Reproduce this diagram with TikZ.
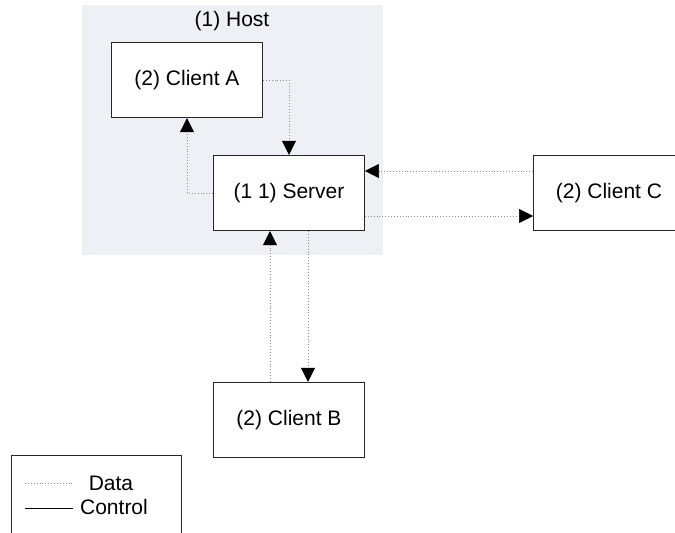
\documentclass[tikz,border=0pt]{standalone}
\usepackage{fontspec}
\setmainfont{Liberation Sans}
\usetikzlibrary{arrows.meta}
\definecolor{hostfill}{HTML}{EDF0F5}
\definecolor{dataline}{HTML}{8C8C8C}
\tikzset{
  box/.style={draw=black!85, line width=0.9pt, fill=white, minimum width=151pt,
    minimum height=75.5pt, inner sep=0pt, font=\fontsize{21}{24}\selectfont},
  lbl/.style={inner sep=0pt, font=\fontsize{21}{24}\selectfont},
  dataflow/.style={draw=dataline, line width=0.9pt, dotted,
    -{Triangle[length=14pt,width=14pt,color=black,fill=black,line width=0.5pt]}},
}
\begin{document}
\begin{tikzpicture}[x=1pt,y=-1pt]
  \useasboundingbox (0,0) rectangle (675,533);
  \clip (0,0) rectangle (675,533);
  % host area
  \fill[hostfill] (82,5) rectangle (383,255);
  \node[lbl] (hostlabel) at (232,21) {(1) Host};
  % processes
  \node[box] (clientA) at (187,80) {(2) Client A};
  \node[box] (server)  at (289,193) {(1 1) Server};
  \node[box] (clientC) at (609,193) {(2) Client C};
  \node[box] (clientB) at (289,420) {(2) Client B};
  % data flows
  \draw[dataflow] (clientA.east) -| (server.north);
  \draw[dataflow] (server.west) -| (clientA.south);
  \draw[dataflow] ([yshift=22pt]clientC.west) -- ([yshift=22pt]server.east);
  \draw[dataflow] ([yshift=-23pt]server.east) -- ([yshift=-23pt]clientC.west);
  \draw[dataflow] ([xshift=-19pt]clientB.north) -- ([xshift=-19pt]server.south);
  \draw[dataflow] ([xshift=19pt]server.south) -- ([xshift=19pt]clientB.north);
  % legend
  \node[draw=black!85, line width=0.9pt, minimum width=170pt, minimum height=100pt,
    inner sep=0pt] (legend) at (96.7,505) {};
  \coordinate (dataA) at (25,483);
  \coordinate (dataB) at (73,483);
  \coordinate (ctrlA) at (25,508);
  \coordinate (ctrlB) at (73,508);
  \draw[draw=dataline, line width=0.9pt, dotted] (dataA) -- (dataB);
  \draw[black, line width=0.9pt] (ctrlA) -- (ctrlB);
  \node[lbl] (datalabel) at (111,483) {Data};
  \node[lbl] (ctrllabel) at (114,507) {Control};
\end{tikzpicture}
\end{document}
